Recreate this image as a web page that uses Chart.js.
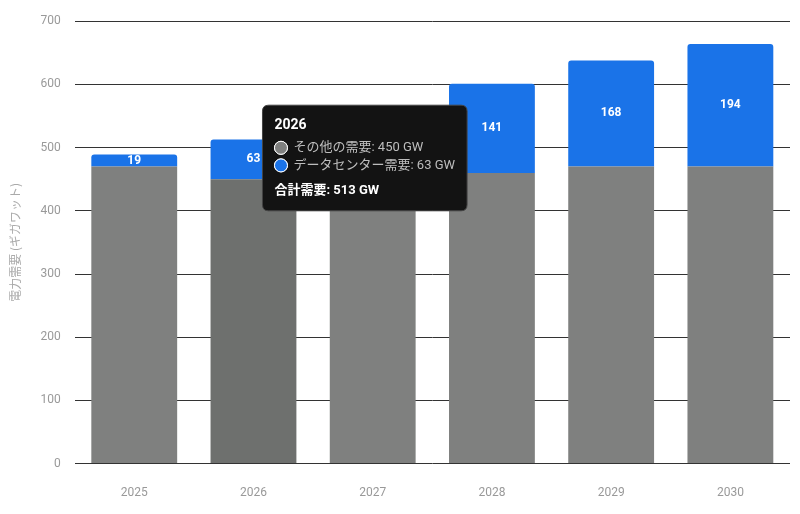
<!DOCTYPE html>
<html><head><meta charset="utf-8">
<script src="https://cdn.jsdelivr.net/npm/chart.js@4"></script>
<style>body{margin:0;background:#fff}#wrap{width:800px;height:514px}</style>
</head><body><div id="wrap"><canvas id="c"></canvas></div>
<script>
var years = ['2025', '2026', '2027', '2028', '2029', '2030'];
var otherDemand = [470, 450, 465, 460, 470, 470];
var dcDemand = [19, 63, 95, 141, 168, 194];
var hovered = 1;

var labelPlugin = {
  id: 'dcLabels',
  afterDatasetsDraw: function (chart) {
    var ctx = chart.ctx, meta = chart.getDatasetMeta(1);
    ctx.save();
    ctx.fillStyle = '#fff';
    ctx.font = 'bold 12px Roboto, sans-serif';
    ctx.textAlign = 'center';
    ctx.textBaseline = 'middle';
    meta.data.forEach(function (bar, i) {
      ctx.fillText(dcDemand[i], bar.x, (bar.y + bar.base) / 2);
    });
    ctx.restore();
  }
};

Chart.Tooltip.positioners.fixed = function (items) {
  if (!items.length) return false;
  return { x: items[0].element.x + 7, y: 158 };
};

var chart = new Chart(document.getElementById('c'), {
  type: 'bar',
  data: {
    labels: years,
    datasets: [{
      label: 'その他の需要',
      data: otherDemand,
      backgroundColor: years.map(function (y, i) { return i === hovered ? '#6e706e' : '#7f807f'; }),
      borderRadius: 3,
      borderSkipped: false,
      barPercentage: 0.72,
      categoryPercentage: 1
    }, {
      label: 'データセンター需要',
      data: dcDemand,
      backgroundColor: '#1a73e8',
      borderRadius: { topLeft: 3, topRight: 3 },
      borderSkipped: false,
      barPercentage: 0.72,
      categoryPercentage: 1
    }]
  },
  options: {
    responsive: true,
    maintainAspectRatio: false,
    animation: false,
    events: [],
    layout: { padding: { top: 6, right: 10, bottom: 0, left: 4 } },
    plugins: {
      legend: { display: false },
      tooltip: {
        position: 'fixed',
        mode: 'index',
        xAlign: 'left',
        yAlign: 'center',
        backgroundColor: '#131313',
        borderColor: '#444',
        borderWidth: 1,
        cornerRadius: 6,
        padding: 12,
        caretSize: 0,
        titleFont: { family: 'Roboto, "Noto Sans CJK JP"', size: 14, weight: 'bold' },
        bodyFont: { family: 'Roboto, "Noto Sans CJK JP"', size: 13 },
        footerFont: { family: 'Roboto, "Noto Sans CJK JP"', size: 13, weight: 'bold' },
        bodyColor: '#bdbdbd',
        footerMarginTop: 10,
        boxPadding: 4,
        usePointStyle: true,
        callbacks: {
          label: function (c) { return c.dataset.label + ': ' + c.raw + ' GW'; },
          labelPointStyle: function () { return { pointStyle: 'circle', rotation: 0 }; },
          labelColor: function (c) {
            return { borderColor: '#fff', backgroundColor: c.datasetIndex ? '#1a73e8' : '#7f807f', borderWidth: 1 };
          },
          footer: function (items) {
            var t = items.reduce(function (s, it) { return s + it.raw; }, 0);
            return '合計需要: ' + t + ' GW';
          }
        }
      }
    },
    scales: {
      x: {
        stacked: true,
        grid: { display: false },
        border: { display: false },
        ticks: { color: '#999', font: { family: 'Roboto', size: 12 }, padding: 14 }
      },
      y: {
        stacked: true,
        min: 0, max: 700,
        ticks: { stepSize: 100, color: '#999', font: { family: 'Roboto', size: 12 }, padding: 14 },
        grid: { color: '#333', drawTicks: false },
        border: { display: false },
        title: { display: true, text: '電力需要 (ギガワット)', color: '#aaa', font: { family: '"Noto Sans CJK JP"', size: 12 } }
      }
    }
  },
  plugins: [labelPlugin]
});

chart.tooltip.setActiveElements([{ datasetIndex: 0, index: hovered }, { datasetIndex: 1, index: hovered }], { x: 0, y: 0 });
chart.update();
</script></body></html>
